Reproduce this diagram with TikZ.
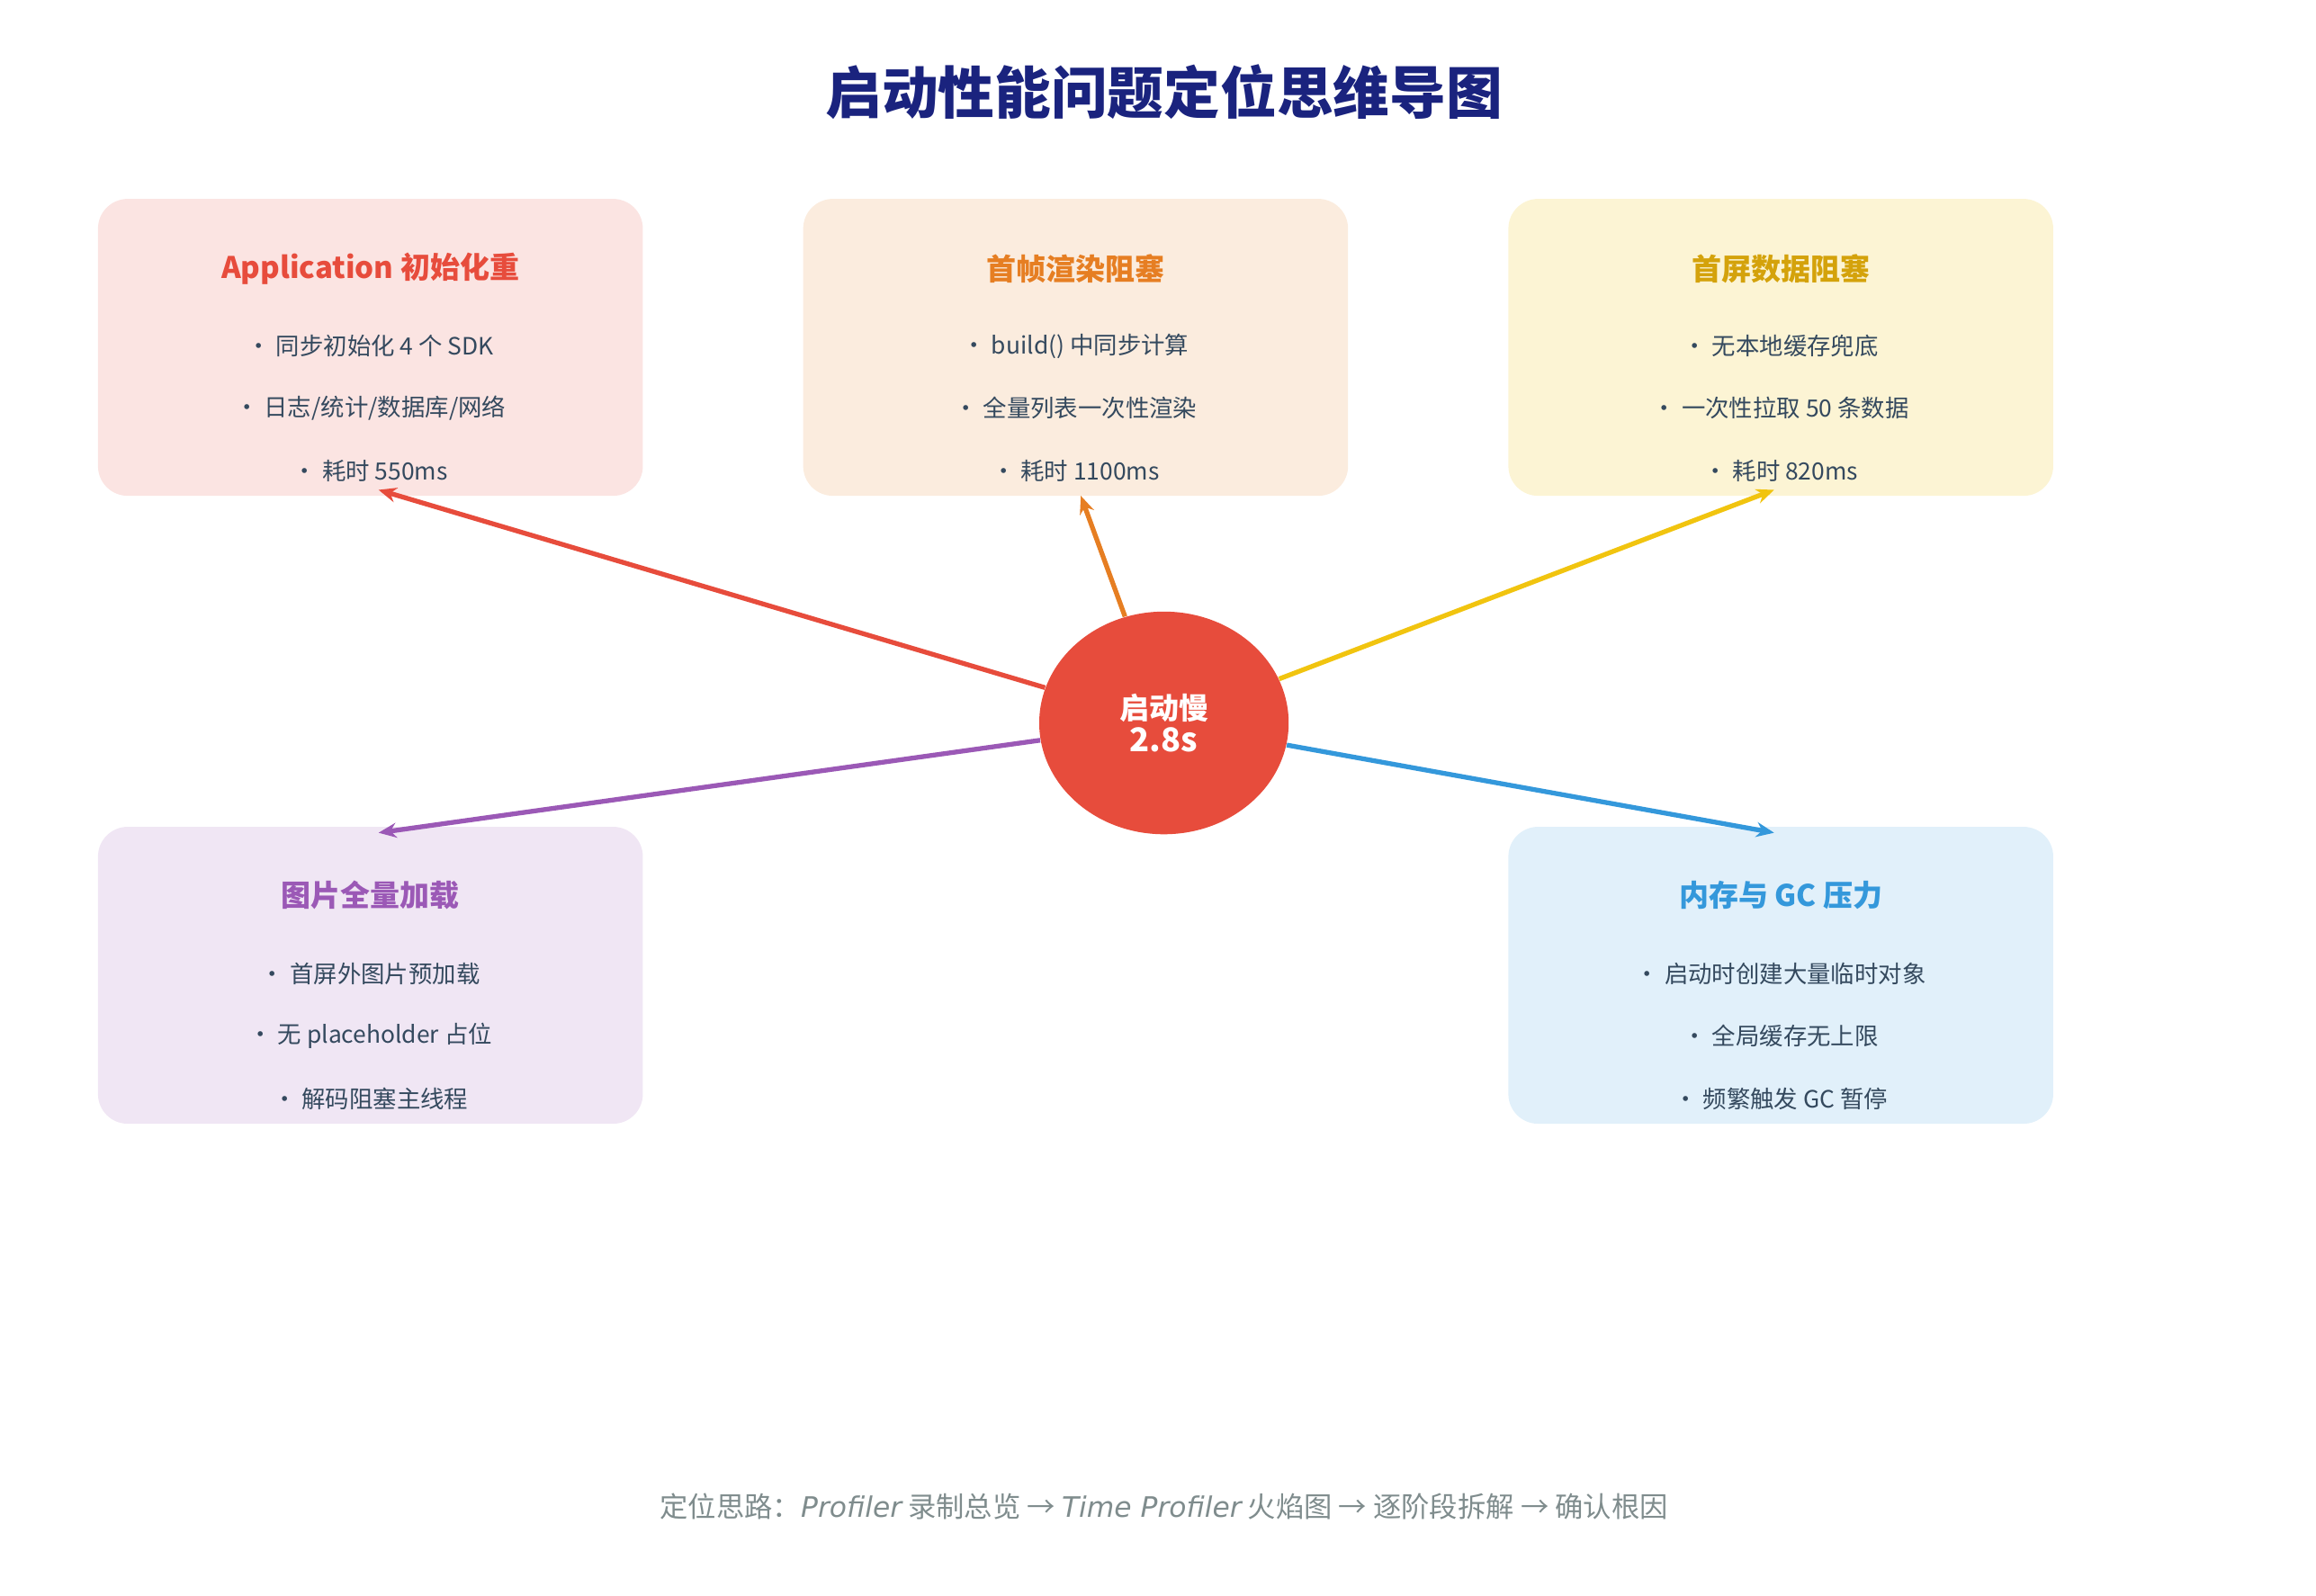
\documentclass[tikz,border=0pt]{standalone}
\usepackage{fontspec}
\setmainfont{Noto Sans CJK SC}
\newfontfamily\latf{DejaVu Sans}
\usetikzlibrary{shapes.geometric}
\definecolor{titlec}{HTML}{1A237E}
\definecolor{textc}{HTML}{34495E}
\definecolor{footc}{HTML}{7F8C8D}
\definecolor{redc}{HTML}{E74C3C}
\definecolor{orangec}{HTML}{E67E22}
\definecolor{yellowc}{HTML}{F1C40F}
\definecolor{yellowt}{HTML}{D4A20B}
\definecolor{purplec}{HTML}{9B59B6}
\definecolor{bluec}{HTML}{3498DB}
\tikzset{
  box/.style={draw=none,rounded corners=10pt,minimum width=183.5pt,minimum height=100pt},
  btitle/.style={font=\fontsize{10}{12}\selectfont\bfseries},
  item/.style={text=textc,font=\fontsize{8}{10}\selectfont},
  link/.style={line width=1.6pt,-{Stealth[length=6pt,width=5pt]}}
}
\usetikzlibrary{arrows.meta}
\begin{document}
\begin{tikzpicture}[x=0.5pt,y=0.5pt,yscale=-1]
\useasboundingbox (0,0) rectangle (1560,1075);

% Title
\node[text=titlec,font=\fontsize{19}{22}\selectfont\bfseries] (title) at (784,62) {启动性能问题定位思维导图};

% Boxes
\node[box,fill=redc!15] (app) at (249.5,234) {};
\node[box,fill=orangec!15] (frame) at (724.5,234) {};
\node[box,fill=yellowc!18] (data) at (1199.5,234) {};
\node[box,fill=purplec!15] (img) at (249.5,657) {};
\node[box,fill=bluec!15] (mem) at (1199.5,657) {};

% Box texts
\node[btitle,text=redc] (appT) at (249.5,181) {Application 初始化重};
\node[item] (app1) at (249.5,233) {• 同步初始化 4 个 SDK};
\node[item] (app2) at (249.5,275) {• 日志/统计/数据库/网络};
\node[item] (app3) at (249.5,317) {• 耗时 550ms};

\node[btitle,text=orangec] (frameT) at (724.5,181) {首帧渲染阻塞};
\node[item] (frame1) at (724.5,233) {• build() 中同步计算};
\node[item] (frame2) at (724.5,275) {• 全量列表一次性渲染};
\node[item] (frame3) at (724.5,317) {• 耗时 1100ms};

\node[btitle,text=yellowt] (dataT) at (1199.5,181) {首屏数据阻塞};
\node[item] (data1) at (1199.5,233) {• 无本地缓存兜底};
\node[item] (data2) at (1199.5,275) {• 一次性拉取 50 条数据};
\node[item] (data3) at (1199.5,317) {• 耗时 820ms};

\node[btitle,text=purplec] (imgT) at (249.5,603) {图片全量加载};
\node[item] (img1) at (249.5,656) {• 首屏外图片预加载};
\node[item] (img2) at (249.5,698) {• 无 placeholder 占位};
\node[item] (img3) at (249.5,740) {• 解码阻塞主线程};

\node[btitle,text=bluec] (memT) at (1199.5,603) {内存与 GC 压力};
\node[item] (mem1) at (1199.5,656) {• 启动时创建大量临时对象};
\node[item] (mem2) at (1199.5,698) {• 全局缓存无上限};
\node[item] (mem3) at (1199.5,740) {• 频繁触发 GC 暂停};

% Centre
\node[ellipse,fill=redc,minimum width=84pt,minimum height=75pt,inner sep=0pt,text=white,align=center] (core) at (784,487)
  {{\fontsize{10}{12}\selectfont\bfseries 启动慢}\\[-1pt]{\fontsize{11}{12}\selectfont\bfseries 2.8s}};

% Arrow ends
\coordinate (appE) at (255,330);
\coordinate (frameE) at (728,334);
\coordinate (dataE) at (1195,330);
\coordinate (imgE) at (255,561);
\coordinate (memE) at (1195,561);

\draw[link,redc] (core) -- (appE);
\draw[link,orangec] (core) -- (frameE);
\draw[link,yellowc] (core) -- (dataE);
\draw[link,purplec] (core) -- (imgE);
\draw[link,bluec] (core) -- (memE);

% Footer
\node[text=footc,font=\fontsize{9.5}{12}\selectfont] (foot) at (784,1015)
  {定位思路：{\latf\itshape Profiler} 录制总览 → {\latf\itshape Time Profiler} 火焰图 → 逐阶段拆解 → 确认根因};
\end{tikzpicture}
\end{document}
